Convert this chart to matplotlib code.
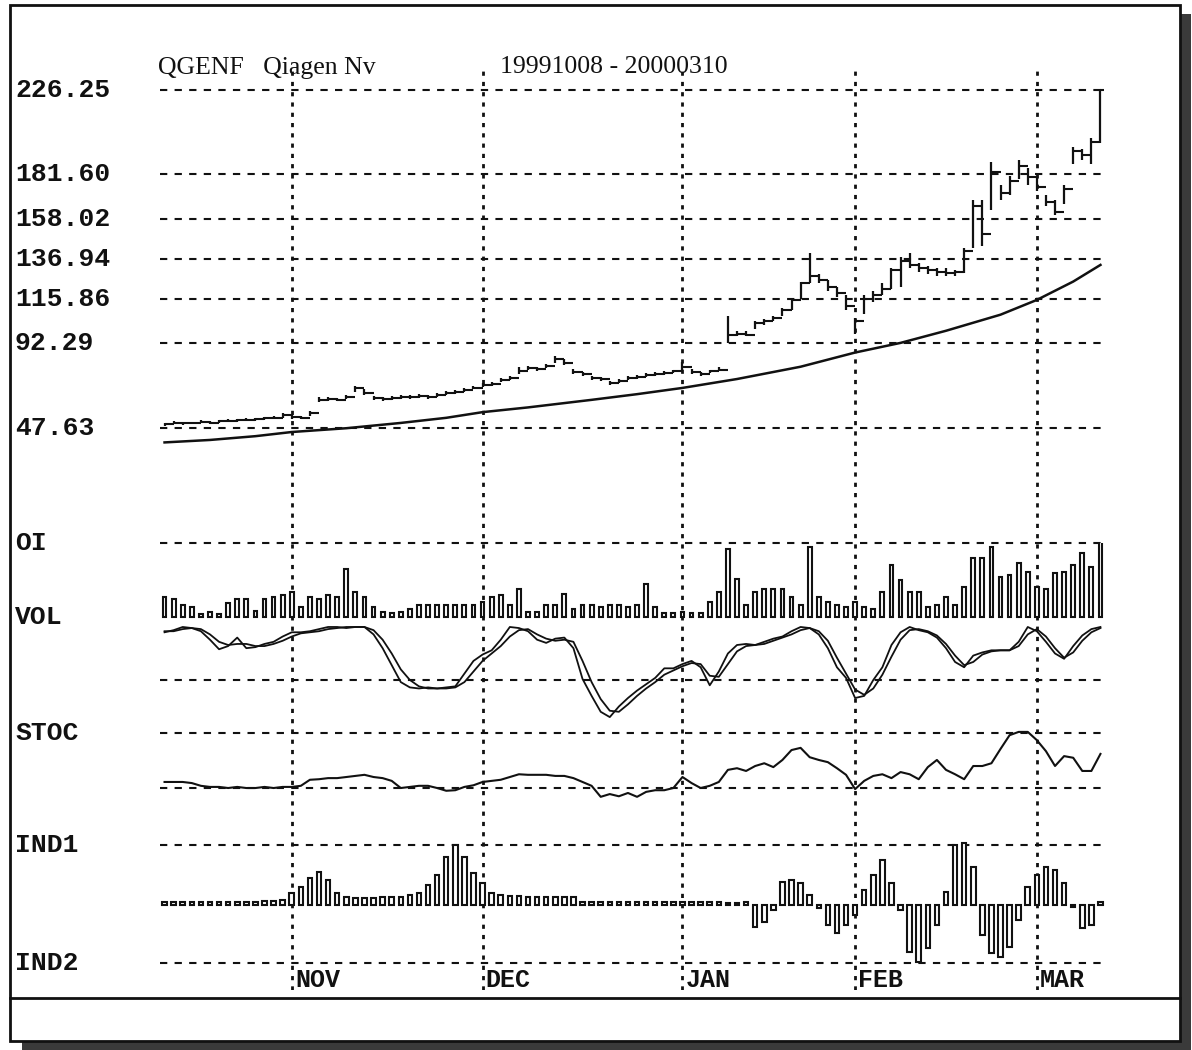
#!/usr/bin/env python3
"""Daily bar chart of QGENF with volume, stochastics and indicator panels"""

import numpy as np
import matplotlib.pyplot as plt
from matplotlib.patches import Rectangle

# ---- data -------------------------------------------------------------
title_left = "QGENF   Qiagen Nv"
title_right = "19991008 - 20000310"

price_levels = [226.25, 181.60, 158.02, 136.94, 115.86, 92.29, 47.63]
price_labels = ["226.25", "181.60", "158.02", "136.94", "115.86", "92.29", "47.63"]

month_idx = [14, 35, 57, 76, 96]
month_names = ["NOV", "DEC", "JAN", "FEB", "MAR"]

closes = [
    49.5, 50.5, 50.0, 50.2, 51.0, 50.5, 51.2, 51.5, 51.8, 52.0,
    52.2, 52.8, 53.0, 54.5, 53.5, 53.0, 55.5, 62.5, 63.0, 62.5,
    64.0, 68.5, 66.0, 63.5, 63.0, 63.5, 64.0, 63.8, 64.5, 64.0,
    65.0, 66.0, 66.5, 67.5, 69.0, 70.5, 71.0, 73.0, 74.0, 78.0,
    79.5, 79.0, 80.5, 84.0, 82.0, 77.0, 76.0, 74.0, 73.5, 71.5,
    72.5, 74.0, 74.5, 75.5, 76.0, 76.5, 77.5, 80.0, 77.0, 76.0,
    77.5, 78.5, 97.0, 97.5, 97.0, 103, 104, 106, 110, 115,
    124, 128, 126, 122, 119, 112, 104, 116, 118, 121,
    131, 136, 134, 132, 131, 130, 129.5, 130, 141, 165,
    150, 183, 172, 178, 186, 180, 175, 167, 162, 174,
    194, 192, 199, 226,
]
highs = [
    50.3, 51.2, 50.8, 51.0, 51.8, 51.3, 52.0, 52.3, 52.6, 52.8,
    53.0, 53.6, 53.8, 55.3, 54.8, 54.0, 56.5, 64.0, 64.2, 63.5,
    65.0, 70.0, 68.0, 64.5, 64.0, 64.5, 65.0, 64.8, 65.5, 65.0,
    66.0, 67.0, 67.5, 68.5, 70.0, 71.5, 72.0, 74.0, 75.0, 80.0,
    80.5, 80.0, 81.5, 85.5, 84.0, 79.0, 77.0, 75.0, 74.5, 72.5,
    73.5, 75.0, 75.5, 76.5, 77.0, 77.5, 78.5, 82.5, 79.0, 77.0,
    78.5, 80.0, 107, 99, 99, 104, 105, 107, 111, 116,
    125, 140, 129, 126, 122, 118, 106, 118, 120, 124,
    132, 138, 140, 135, 133, 132, 132, 131, 143, 168,
    168, 188, 176, 181, 189, 185, 180, 171, 168, 176,
    196, 195, 201, 227,
]
lows = [
    48.8, 49.8, 49.3, 49.5, 50.2, 49.8, 50.5, 50.8, 51.0, 51.2,
    51.5, 52.0, 52.3, 53.0, 52.5, 52.2, 54.0, 61.5, 62.0, 61.8,
    63.0, 66.5, 65.0, 62.5, 62.0, 62.5, 63.0, 63.0, 63.5, 63.0,
    64.0, 65.0, 65.5, 66.5, 68.0, 69.5, 70.0, 72.0, 73.0, 76.0,
    78.5, 78.0, 79.5, 82.0, 81.0, 76.0, 75.0, 73.0, 72.5, 70.5,
    71.5, 73.0, 73.5, 74.5, 75.0, 75.5, 76.5, 78.5, 76.0, 75.0,
    76.5, 77.5, 92.6, 96, 96, 100, 102, 104, 107, 110,
    116, 124, 124, 120, 117, 110, 97.5, 108, 114, 118,
    121, 122, 132, 130, 129, 128, 128, 128, 129.5, 143,
    144, 163, 168, 171, 179, 176, 173, 165, 160, 166,
    187, 189, 187, 198,
]

ma_idx = [0, 5, 10, 14, 20, 26, 31, 35, 40, 47, 52, 57, 63, 70, 76, 81, 86, 92, 96, 100, 103]
ma_val = [40.0, 41.3, 43.3, 45.5, 47.5, 50.3, 53.0, 56.0, 58.5, 62.5, 65.5,
          68.8, 73.5, 80.0, 87.5, 92.6, 99.0, 107.5, 115.3, 125.0, 133.8]

volume = [
    20, 18, 12, 10, 3, 5, 3, 14, 18, 18,
    6, 18, 20, 22, 25, 10, 20, 18, 22, 20,
    48, 25, 20, 10, 5, 4, 5, 8, 12, 12,
    12, 12, 12, 12, 12, 15, 20, 22, 12, 28,
    5, 5, 12, 12, 23, 8, 12, 12, 10, 12,
    12, 10, 12, 33, 10, 4, 4, 5, 4, 4,
    15, 25, 68, 38, 12, 25, 28, 28, 28, 20,
    12, 70, 20, 15, 12, 10, 15, 10, 8, 25,
    52, 37, 25, 25, 10, 12, 20, 12, 30, 59,
    59, 70, 40, 42, 54, 45, 30, 28, 44, 45,
    52, 64, 50, 75,
]

stoch_k = [
    95, 97, 100, 99, 96, 88, 79, 82, 90, 80,
    81, 84, 86, 91, 95, 95, 96, 98, 100, 100,
    99, 100, 100, 93, 80, 64, 48, 43, 42, 43,
    42, 43, 44, 56, 68, 74, 78, 88, 100, 99,
    96, 88, 85, 89, 90, 80, 51, 35, 20, 15,
    25, 33, 40, 46, 52, 61, 61, 65, 68, 62,
    45, 58, 75, 83, 84, 83, 86, 89, 91, 96,
    100, 99, 93, 80, 62, 52, 33, 35, 50, 62,
    83, 95, 100, 97, 95, 90, 80, 67, 62, 73,
    76, 78, 78, 78, 86, 100, 96, 86, 75, 70,
    82, 92, 98, 100,
]
stoch_d = [
    96, 96, 98, 99, 98, 93, 86, 83, 84, 84,
    82, 82, 84, 87, 91, 94, 95, 96, 98, 99,
    100, 100, 100, 97, 88, 75, 60, 50, 44, 42,
    42, 42, 43, 48, 58, 68, 75, 82, 91, 97,
    98, 93, 89, 87, 88, 86, 68, 48, 32, 21,
    20, 27, 35, 42, 48, 55, 59, 63, 66, 65,
    54, 53, 65, 77, 82, 83, 84, 87, 90, 93,
    97, 99, 96, 87, 71, 56, 41, 36, 42, 55,
    72, 88, 97, 98, 96, 92, 84, 73, 64, 67,
    74, 77, 78, 78, 82, 93, 98, 91, 80, 71,
    76, 87, 95, 99,
]

osc_line = [
    11, 11, 11, 9, 4, 2, 2, 0, 2, 0,
    0, 2, 0, 2, 2, 4, 15, 16, 18, 18,
    20, 22, 24, 20, 18, 13, 0, 2, 4, 4,
    0, -5, -4, 2, 5, 11, 13, 15, 20, 25,
    24, 24, 24, 22, 22, 18, 11, 4, -16, -11,
    -15, -9, -16, -7, -4, -4, 0, 20, 9, 0,
    4, 11, 33, 36, 31, 40, 45, 38, 51, 69,
    73, 56, 51, 47, 36, 24, -2, 13, 22, 25,
    18, 29, 25, 16, 38, 51, 33, 25, 16, 40,
    40, 45, 71, 96, 102, 102, 87, 67, 40, 58,
    55, 31, 31, 62,
]

ind = [
    3, 3, 3, 3, 3, 3, 3, 3, 3, 3, 3, 4, 4, 5,
    12, 18, 27, 33, 25, 12, 8, 7, 7, 7, 8, 8, 8, 10, 12,
    20, 30, 48, 60, 48, 32, 22, 12, 10, 9, 9, 8, 8, 8, 8, 8, 8, 3,
    3, 3, 3, 3, 3, 3, 3, 3, 3, 3, 3, 3, 3, 3, 3, 2, 2, 3,
    -22, -17, -5, 23, 25, 22, 10, -3, -20, -28, -20,
    -10, 15, 30, 45, 22, -5, -47, -57, -43, -20, 13, 60, 62, 38,
    -30, -48, -52, -42, -15, 18, 30, 38, 35, 22, -2, -23, -20, 3,
]

# ---- figure -----------------------------------------------------------
W, H = 1192, 1050
fig = plt.figure(figsize=(W / 100, H / 100), dpi=100)
fig.patch.set_facecolor("white")

INK = "#111111"
MONO = dict(family="Liberation Mono", weight="bold", color=INK)
GRID = dict(color=INK, lw=1.5, dashes=(3.5, 3.5), zorder=1, clip_on=False)

# frame with drop shadow
bg = fig.add_axes([0, 0, 1, 1])
bg.set_xlim(0, W)
bg.set_ylim(H, 0)
bg.axis("off")
bg.add_patch(Rectangle((1180, 14), 11, 1036, color="#3a3a3a", lw=0))
bg.add_patch(Rectangle((22, 1041), 1169, 9, color="#3a3a3a", lw=0))
bg.add_patch(Rectangle((10, 5), 1170, 1036, fill=False, ec=INK, lw=2))
bg.plot([10, 1180], [998, 998], color=INK, lw=2)


def panel(top, bottom, left=160, right=1105):
    ax = fig.add_axes([left / W, 1 - bottom / H, (right - left) / W, (bottom - top) / H])
    ax.patch.set_alpha(0)
    ax.set_xlim(-0.5, 103.5)
    ax.set_xticks([])
    ax.set_yticks([])
    for s in ax.spines.values():
        s.set_visible(False)
    return ax


x = np.arange(len(closes))
lab_x = (15 - 160) / 945

# month separators over the whole chart height
vax = panel(70, 990)
vax.set_ylim(0, 1)
for m in month_idx:
    vax.axvline(m, color=INK, lw=2, dashes=(1.5, 2.2))

# price panel: high-low bars, close tick running on to the next bar
pax = panel(70, 543)
pax.set_ylim(-13.15, 236.8)
for v, s in zip(price_levels, price_labels):
    pax.axhline(v, **GRID)
    pax.text(lab_x, v, s, transform=pax.get_yaxis_transform(), ha="left",
             va="center", fontsize=19, **MONO)
pax.vlines(x, lows, highs, color=INK, lw=1.6, zorder=3)
pax.hlines(closes[:-1], x[:-1], x[1:], color=INK, lw=1.5, zorder=3)
pax.hlines(closes[-1], x[-1], x[-1] + 0.4, color=INK, lw=1.5, zorder=3)
pax.plot(ma_idx, ma_val, color=INK, lw=1.8, zorder=3)

# volume panel
vol = panel(543, 622)
vol.set_ylim(-5, 74)
vol.axhline(74, **GRID)
vol.bar(x, volume, width=0.42, facecolor="white", edgecolor=INK, lw=1.5, zorder=3)
vol.text(lab_x, 74, "OI", transform=vol.get_yaxis_transform(), ha="left",
         va="center", fontsize=19, **MONO)
vol.text(lab_x, 0, "VOL", transform=vol.get_yaxis_transform(), ha="left",
         va="center", fontsize=19, **MONO)

# stochastic panel
sto = panel(622, 733)
sto.set_ylim(0, 104.7)
sto.axhline(50, **GRID)
sto.axhline(0, **GRID)
sto.plot(x, stoch_k, color=INK, lw=1.3, zorder=3, clip_on=False)
sto.plot(x, stoch_d, color=INK, lw=1.3, zorder=3, clip_on=False)
sto.text(lab_x, 0, "STOC", transform=sto.get_yaxis_transform(), ha="left",
         va="center", fontsize=19, **MONO)

# oscillator line panel
osc = panel(733, 790)
osc.set_ylim(-3.6, 100)
osc.axhline(0, **GRID)
osc.plot(x, osc_line, color=INK, lw=1.5, zorder=3, clip_on=False)

# indicator histogram panel
iax = panel(790, 990)
iax.set_ylim(-85, 115)
iax.axhline(60, **GRID)
iax.axhline(-58, **GRID)
iax.bar(x, ind, width=0.5, facecolor="white", edgecolor=INK, lw=1.5, zorder=3)
iax.text(lab_x, 60, "IND1", transform=iax.get_yaxis_transform(), ha="left",
         va="center", fontsize=19, **MONO)
iax.text(lab_x, -58, "IND2", transform=iax.get_yaxis_transform(), ha="left",
         va="center", fontsize=19, **MONO)
for m, name in zip(month_idx, month_names):
    iax.text(m + 0.35, -75, name, ha="left", va="center", fontsize=18, **MONO)

# header
fig.text(158 / W, 1 - 68 / H, title_left, family="Liberation Serif",
         fontsize=18.5, color=INK, va="center", ha="left")
fig.text(500 / W, 1 - 67 / H, title_right, family="Liberation Serif",
         fontsize=18.5, color=INK, va="center", ha="left")

fig.savefig("out.png", dpi=100)
